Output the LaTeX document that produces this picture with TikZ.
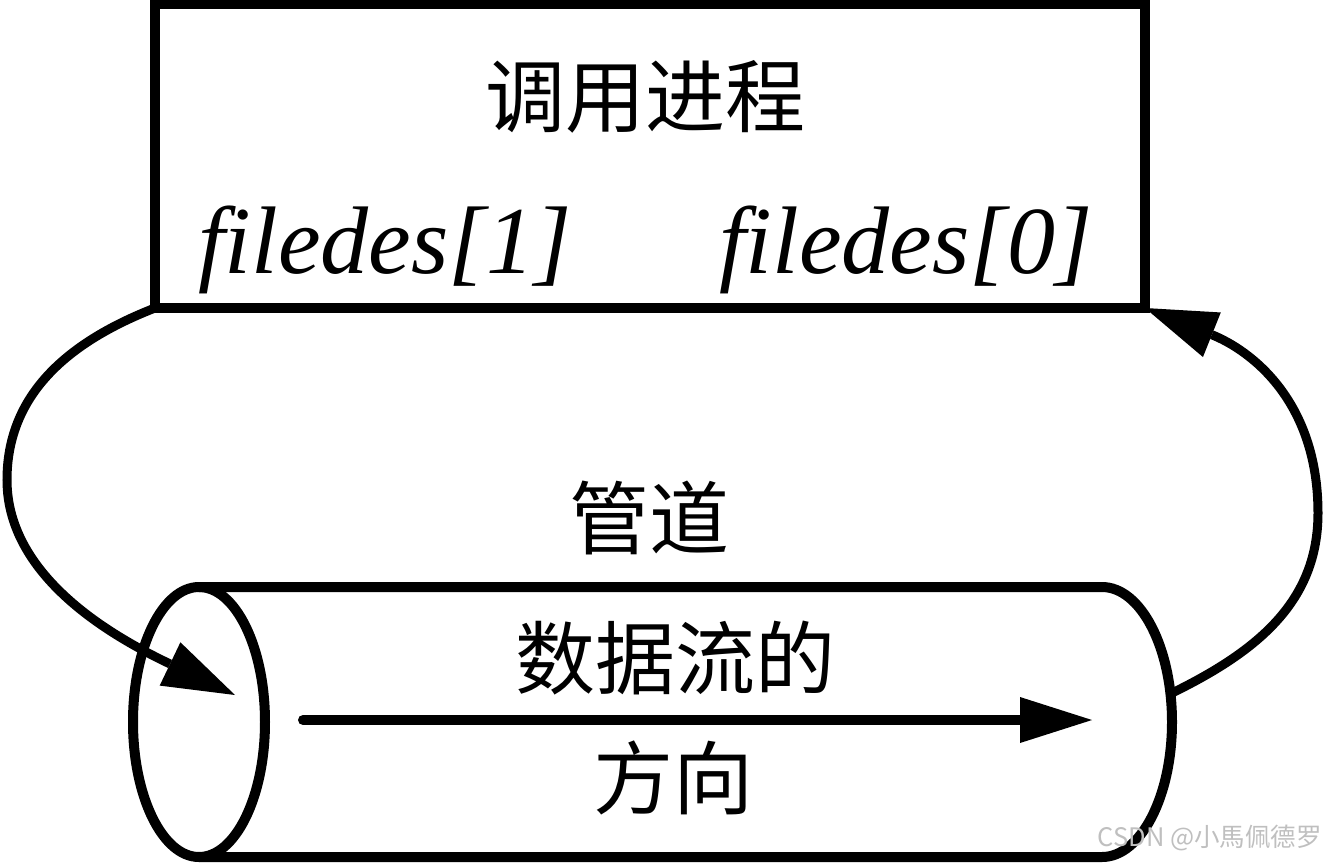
\documentclass[tikz,border=0pt]{standalone}
\usepackage{fontspec}
\newfontfamily\cjk{Noto Sans CJK SC}
\newfontfamily\tms{Liberation Serif}
\usetikzlibrary{arrows.meta}
\begin{document}
\begin{tikzpicture}[x=1pt,y=-1pt,
  thickline/.style={line width=10pt},
  curveline/.style={line width=9pt},
  bigtip/.style={-{Triangle[length=72pt,width=48pt,line width=0pt]}},
  cjklabel/.style={font=\cjk\fontsize{80}{96}\selectfont, inner sep=0},
  fdlabel/.style={font=\tms\itshape\fontsize{96}{110}\selectfont, inner sep=0, anchor=base west},
  wmark/.style={font=\cjk\fontsize{25.5}{30}\selectfont, text=black!25, inner sep=0, anchor=east}]
\useasboundingbox (0,0) rectangle (1326,863);
% process box
\node[draw, thickline, minimum width=990pt, minimum height=304pt, inner sep=0, outer sep=0] (proc) at (650,156) {};
\node[cjklabel] (title) at (645,97) {调用进程};
\node[fdlabel] (fd1) at (198,273) {filedes[1]};
\node[fdlabel] (fd0) at (719,273) {filedes[0]};
% pipe (cylinder)
\draw[thickline, line join=round] (199,587) -- (1102,587)
  arc[start angle=-90, end angle=90, x radius=70, y radius=135] -- (199,857);
\draw[thickline] (199,722) ellipse[x radius=66, y radius=135];
\coordinate (pin) at (235,695);
\coordinate (pout) at (1172,693);
\coordinate (fs) at (303,720);
\coordinate (fe) at (1092,720);
% labels
\node[cjklabel] (pipe) at (649,518) {管道};
\node[cjklabel] (flow) at (675,658) {数据流的};
\node[cjklabel] (dir) at (673,778) {方向};
% connectors
\draw[curveline, bigtip] (proc.south west) .. controls (60,345) and (7,400) .. (7,480)
  .. controls (7,580) and (120,640) .. (pin);
\draw[curveline, bigtip] (pout) .. controls (1260,650) and (1318,600) .. (1318,513)
  .. controls (1318,400) and (1250,350) .. (proc.south east);
\draw[thickline, line cap=round, -{Triangle[length=72pt,width=46pt,line width=0pt]}] (fs) -- (fe);
% watermark
\node[wmark] (wm) at (1322,838) {CSDN @小馬佩德罗};
\end{tikzpicture}
\end{document}
